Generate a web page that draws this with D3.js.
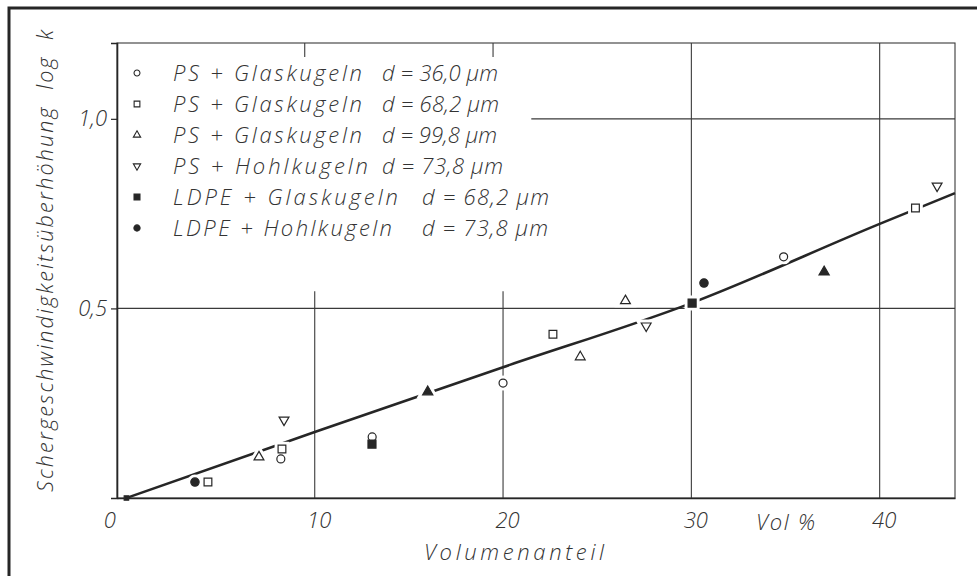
<!DOCTYPE html>
<html lang="de">
<head>
<meta charset="UTF-8">
<title>Schergeschwindigkeitsüberhöhung</title>
<script src="https://cdnjs.cloudflare.com/ajax/libs/d3/7.8.5/d3.min.js"></script>
<style>
  body { margin: 0; background: #fff; }
  svg text { font-family: "Open Sans", Lato, sans-serif; font-style: italic; font-weight: 300; fill: #333; }
</style>
</head>
<body>
<svg width="977" height="576"></svg>
<script>
// values (x in Vol %, y in log k)
const psGlas36 = [[8.2, 0.103], [13.05, 0.161], [20.0, 0.303], [34.9, 0.636]];
const psGlas68 = [[4.33, 0.042], [8.26, 0.129], [22.65, 0.432], [41.9, 0.765]];
const psGlas99 = [[7.04, 0.108], [24.1, 0.372], [26.5, 0.52]];
const psHohl74 = [[8.37, 0.206], [27.6, 0.454], [43.05, 0.823]];
const ldpeGlas68 = [[13.04, 0.142], [30.04, 0.514]];
const ldpeHohl74 = [[3.64, 0.042], [30.67, 0.567]];
const filledTri = [[16.0, 0.28], [37.05, 0.596]];
const origin = [[0, 0]];

const fitX = [0, 10, 20, 30, 40, 44];
const fitY = [0, 0.174, 0.345, 0.514, 0.723, 0.804];

const xTicks = [0, 10, 20, 30, 40];
const yTicks = [0.5, 1.0];

const legendNames = ["PS + Glaskugeln", "PS + Glaskugeln", "PS + Glaskugeln", "PS + Hohlkugeln", "LDPE + Glaskugeln", "LDPE + Hohlkugeln"];
const legendSizes = ["d = 36,0 µm", "d = 68,2 µm", "d = 99,8 µm", "d = 73,8 µm", "d = 68,2 µm", "d = 73,8 µm"];
// measured widths of the lettering in the scan
const nameWidths = [189, 189, 189, 195, 225, 219];
const sizeWidths = [116, 117, 115, 121, 127, 126];

const svg = d3.select("svg");
const x = d3.scaleLinear().domain([-0.5, 44]).range([117, 955]);
const y = d3.scaleLinear().domain([0, 1.2]).range([498, 43]);
const ink = "#262626";

// outer frame of the scan
svg.append("path").attr("d", "M9,580 V8 H990").attr("fill", "none").attr("stroke", ink).attr("stroke-width", 3);

// grid
const grid = svg.append("g").attr("stroke", "#3a3a3a").attr("stroke-width", 1.1).attr("fill", "none");
[[10, 0, 0.545], [20, 0, 0.545], [30, 0, 1.2], [40, 0, 1.2]].forEach(([v, a, b]) => {
  grid.append("line").attr("x1", x(v)).attr("x2", x(v)).attr("y1", y(a)).attr("y2", y(b));
});
grid.append("line").attr("x1", x(-0.5)).attr("x2", x(44)).attr("y1", y(0.5)).attr("y2", y(0.5));
grid.append("line").attr("x1", x(21.5)).attr("x2", x(44)).attr("y1", y(1)).attr("y2", y(1));
grid.append("rect").attr("x", x(-0.5)).attr("y", y(1.2)).attr("width", x(44) - x(-0.5)).attr("height", y(0) - y(1.2));
[10, 20].forEach(v => {
  grid.append("line").attr("x1", x(v) - 10).attr("x2", x(v) - 10).attr("y1", y(1.2)).attr("y2", y(1.2) + 14);
});

// axes
const xAxis = svg.append("g").attr("transform", `translate(0,${y(0)})`)
  .call(d3.axisBottom(x).tickValues(xTicks).tickSize(0).tickPadding(14).tickFormat(d3.format("d")));
xAxis.select(".domain").attr("stroke", ink).attr("stroke-width", 1.6);
xAxis.selectAll(".tick text").attr("font-size", 22).attr("dy", "0.71em")
  .attr("dx", d => d === 0 ? -17 : 4);

const yAxis = svg.append("g").attr("transform", `translate(${x(-0.5)},0)`)
  .call(d3.axisLeft(y).tickValues(yTicks).tickSize(6).tickPadding(4).tickFormat(d => d3.format(".1f")(d).replace(".", ",")));
yAxis.select(".domain").attr("stroke", ink).attr("stroke-width", 1.6);
yAxis.selectAll(".tick line").attr("stroke", ink).attr("stroke-width", 1.2);
yAxis.selectAll(".tick text").attr("font-size", 22).attr("dy", "0.32em");
svg.selectAll(".tick text").attr("fill", "#333");

svg.append("text").attr("x", x(35)).attr("y", 530).attr("text-anchor", "middle")
  .attr("font-size", 22).attr("textLength", 59).attr("lengthAdjust", "spacing").text("Vol %");
svg.append("text").attr("x", 514).attr("y", 560).attr("text-anchor", "middle")
  .attr("font-size", 22).attr("textLength", 180).attr("lengthAdjust", "spacing").text("Volumenanteil");
svg.append("text").attr("transform", "translate(53,261) rotate(-90)").attr("text-anchor", "middle")
  .attr("font-size", 21.5).attr("xml:space", "preserve")
  .attr("textLength", 462).attr("lengthAdjust", "spacing")
  .text("Schergeschwindigkeitsüberhöhung  log  k");

// fit curve
const fit = fitX.map((v, i) => [v, fitY[i]]);
svg.append("path").datum(fit)
  .attr("d", d3.line().x(d => x(d[0])).y(d => y(d[1])).curve(d3.curveMonotoneX))
  .attr("fill", "none").attr("stroke", ink).attr("stroke-width", 2.6);

// markers
const series = [
  { data: psGlas36, type: d3.symbolCircle, size: 50, filled: false, rot: 0 },
  { data: psGlas68, type: d3.symbolSquare, size: 60, filled: false, rot: 0 },
  { data: psGlas99, type: d3.symbolTriangle, size: 42, filled: false, rot: 0 },
  { data: psHohl74, type: d3.symbolTriangle, size: 42, filled: false, rot: 180 },
  { data: ldpeGlas68, type: d3.symbolSquare, size: 64, filled: true, rot: 0 },
  { data: ldpeHohl74, type: d3.symbolCircle, size: 55, filled: true, rot: 0 },
  { data: filledTri, type: d3.symbolTriangle, size: 45, filled: true, rot: 0 },
  { data: origin, type: d3.symbolSquare, size: 20, filled: true, rot: 0 }
];

const marks = svg.append("g");
series.forEach(s => {
  const sym = d3.symbol().type(s.type).size(s.size);
  // white halo that breaks the lines around each marker, as in the drawing
  marks.selectAll(null).data(s.data).enter().append("path")
    .attr("transform", d => `translate(${x(d[0])},${y(d[1])}) rotate(${s.rot})`)
    .attr("d", sym).attr("fill", "#fff").attr("stroke", "#fff").attr("stroke-width", s.data === origin ? 0 : 7);
});
series.forEach(s => {
  const sym = d3.symbol().type(s.type).size(s.size);
  marks.selectAll(null).data(s.data).enter().append("path")
    .attr("transform", d => `translate(${x(d[0])},${y(d[1])}) rotate(${s.rot})`)
    .attr("d", sym)
    .attr("fill", s.filled ? ink : "#fff")
    .attr("stroke", ink).attr("stroke-width", 1.2);
});

// legend
const legend = svg.append("g");
const legendSeries = series.slice(0, 6);
legendSeries.forEach((s, i) => {
  const cy = 73 + i * 31;
  legend.append("path")
    .attr("transform", `translate(137,${cy}) rotate(${s.rot})`)
    .attr("d", d3.symbol().type(s.type).size(s.size * 0.55))
    .attr("fill", s.filled ? ink : "#fff").attr("stroke", ink).attr("stroke-width", 1.1);
  legend.append("text").attr("x", 173).attr("y", cy + 8).attr("font-size", 22)
    .attr("textLength", nameWidths[i]).attr("lengthAdjust", "spacing").text(legendNames[i]);
  legend.append("text").attr("x", i < 4 ? 382 : 422).attr("y", cy + 8).attr("font-size", 22)
    .attr("textLength", sizeWidths[i]).attr("lengthAdjust", "spacing").text(legendSizes[i]);
});
</script>
</body>
</html>
